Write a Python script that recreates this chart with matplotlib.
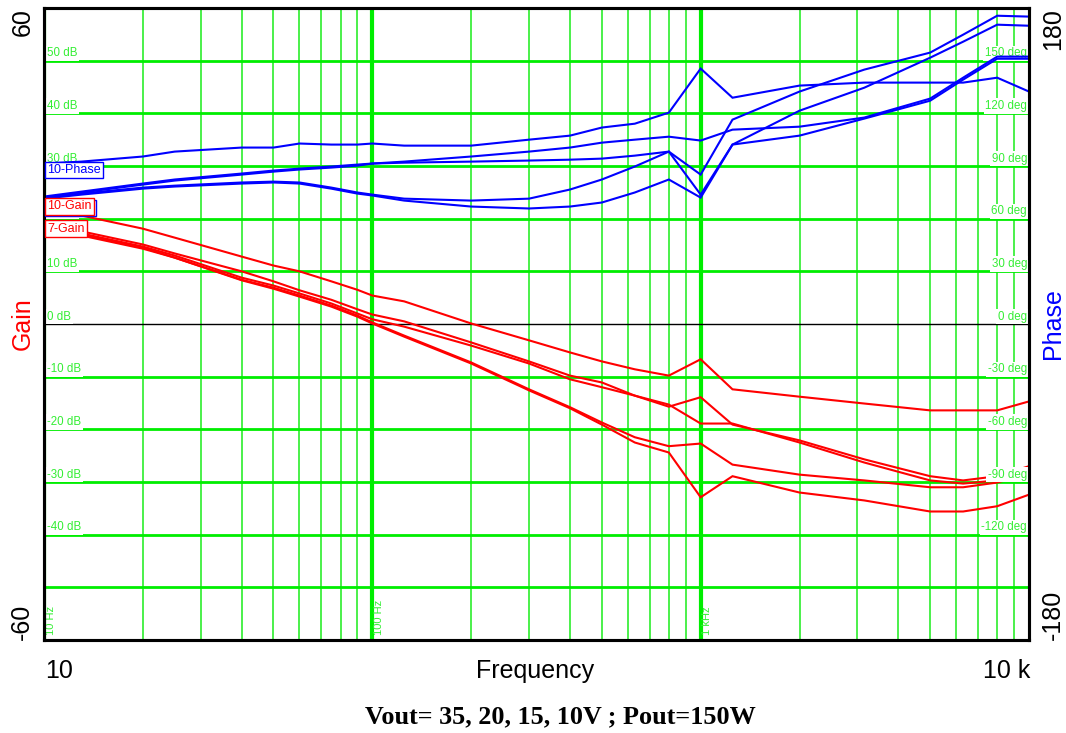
import matplotlib
matplotlib.use("Agg")
import matplotlib.pyplot as plt
from matplotlib.ticker import NullLocator

plt.rcParams['font.family'] = ['Liberation Sans', 'DejaVu Sans']

# ---------------- data ----------------
freq = [10, 13, 20, 25, 40, 50, 60, 75, 90, 100, 125, 200, 300, 400, 500,
        630, 800, 1000, 1250, 2000, 3150, 5000, 6300, 8000, 10000]

gain_1 = [21.7, 20.6, 18.1, 16.4, 12.8, 11.1, 10.0, 8.1, 6.5, 5.4, 4.3, 0.1, -3.1, -5.4, -7.1,
          -8.6, -9.8, -6.7, -12.4, -13.8, -15.1, -16.4, -16.4, -16.4, -14.7]
gain_2 = [18.7, 17.6, 15.1, 13.4, 10.0, 8.1, 6.4, 4.6, 2.8, 1.8, 0.5, -3.5, -7.1, -9.8, -11.1,
          -13.6, -15.7, -13.9, -19.1, -22.1, -25.7, -28.9, -29.7, -28.9, -27.0]
gain_3 = [18.3, 17.2, 14.7, 13.0, 8.8, 7.3, 5.8, 3.9, 2.0, 0.9, -0.5, -4.1, -7.5, -10.5, -12.0,
          -13.6, -15.3, -18.9, -18.9, -22.5, -26.3, -29.7, -30.3, -29.7, -27.8]
gain_4 = [18.1, 17.0, 14.5, 12.6, 8.4, 6.9, 5.4, 3.5, 1.6, 0.3, -2.2, -7.3, -12.4, -15.8, -18.7,
          -21.5, -23.2, -22.7, -26.7, -28.6, -29.7, -31.0, -31.0, -30.1, -28.4]
gain_5 = [17.9, 16.8, 14.3, 12.6, 8.3, 6.7, 5.2, 3.3, 1.4, 0.1, -2.4, -7.5, -12.6, -16.0, -19.1,
          -22.5, -24.4, -32.9, -28.9, -32.0, -33.5, -35.6, -35.6, -34.6, -32.4]

phase_1 = [91.4, 92.5, 95.4, 98.2, 100.5, 100.5, 102.8, 102.2, 102.2, 102.8, 101.6, 101.6, 105.0,
           107.3, 111.9, 114.1, 120.4, 145.5, 128.9, 135.8, 137.5, 137.5, 137.5, 140.3, 132.4]
phase_2 = [72.6, 75.4, 80.0, 82.3, 85.7, 87.4, 88.5, 89.7, 90.8, 91.4, 92.5, 95.4, 98.2,
           100.5, 103.3, 105.0, 106.7, 104.5, 110.7, 112.4, 117.6, 128.4, 140.3, 152.3, 152.3]
phase_3 = [72.0, 74.9, 79.4, 81.7, 85.1, 86.8, 88.0, 89.1, 90.2, 91.4, 91.9, 92.5, 93.1,
           93.6, 94.2, 95.9, 98.2, 85.1, 116.4, 132.4, 144.9, 154.6, 164.8, 175.6, 175.1]
phase_4 = [72.0, 74.3, 77.7, 78.8, 80.6, 81.1, 80.6, 77.7, 74.9, 73.7, 71.4, 70.3, 71.4,
           76.6, 82.3, 89.7, 98.2, 73.7, 102.2, 121.5, 134.6, 151.7, 160.8, 170.5, 169.9]
phase_5 = [71.4, 73.7, 77.1, 78.3, 80.0, 80.6, 80.0, 77.1, 74.3, 73.2, 70.3, 66.9, 65.8,
           66.9, 69.2, 74.9, 82.3, 72.0, 102.2, 107.3, 117.0, 127.2, 139.2, 151.1, 151.1]

gain_curves = [gain_1, gain_2, gain_3, gain_4, gain_5]
phase_curves = [phase_1, phase_2, phase_3, phase_4, phase_5]

gain_grid = [50, 40, 30, 20, 10, 0, -10, -20, -30, -40, -50]
gain_grid_labels = ['50 dB', '40 dB', '30 dB', '20 dB', '10 dB', '0 dB',
                    '-10 dB', '-20 dB', '-30 dB', '-40 dB', '']
phase_grid_labels = ['150 deg', '120 deg', '90 deg', '60 deg', '30 deg', '0 deg',
                     '-30 deg', '-60 deg', '-90 deg', '-120 deg', '']
phase_grid = [150, 120, 90, 60, 30, 0, -30, -60, -90, -120, -150]
decades = [10, 100, 1000]
decade_labels = ['10 Hz', '100 Hz', '1 kHz']
legend_names = ['10-Phase', '7-Phase', '10-Gain', '7-Gain']

title = 'Vout= 35, 20, 15, 10V ; Pout=150W'

# ---------------- figure ----------------
GREEN = '#00ee00'
LABEL_GREEN = '#33ee33'
fig = plt.figure(figsize=(10.66, 7.33), dpi=100)
ax = fig.add_axes([44 / 1066, 93 / 733, 985 / 1066, 632 / 733])
ax.set_xscale('log')
ax.set_xlim(10, 10000)
ax.set_ylim(-60, 60)
ax.xaxis.set_major_locator(NullLocator())
ax.xaxis.set_minor_locator(NullLocator())
ax.set_yticks([])

ax2 = ax.twinx()
ax2.set_ylim(-180, 180)
ax2.set_yticks([])
ax2.patch.set_visible(False)

for a in (ax, ax2):
    for s in a.spines.values():
        s.set_linewidth(2.2)
        s.set_color('black')
        s.set_zorder(10)

# vertical grid
for d in decades:
    for k in range(1, 10):
        f = d * k
        if k == 1:
            ax.axvline(f, color=GREEN, lw=3.0, zorder=1)
        else:
            ax.axvline(f, color='#3def3d', lw=1.3, zorder=1)

# horizontal grid
for lev in gain_grid:
    if lev == 0:
        ax.axhline(lev, color='black', lw=1.0, zorder=1.5)
    else:
        ax.axhline(lev, color=GREEN, lw=2.0, zorder=1)

ytr = ax.get_yaxis_transform()
for lev, lab in zip(gain_grid, gain_grid_labels):
    if lab:
        ax.text(0.003, lev + 0.25, lab, transform=ytr, ha='left', va='bottom',
                fontsize=8.3, color=LABEL_GREEN, zorder=2,
                bbox=dict(facecolor='white', edgecolor='none', pad=1.2))
ytr2 = ax2.get_yaxis_transform()
for lev, lab in zip(phase_grid, phase_grid_labels):
    if lab:
        ax2.text(0.998, lev + 0.75, lab, transform=ytr2, ha='right', va='bottom',
                 fontsize=8.3, color=LABEL_GREEN, zorder=1,
                 bbox=dict(facecolor='white', edgecolor='none', pad=1.2))

xtr = ax.get_xaxis_transform()
for d, lab in zip(decades, decade_labels):
    ax.text(d * 1.012, 0.008, lab, transform=xtr, rotation=90, ha='left', va='bottom',
            fontsize=8, color=LABEL_GREEN, zorder=2)

# curves
for g in gain_curves:
    ax.plot(freq, g, color='#ff0000', lw=1.5, zorder=3, solid_joinstyle='miter')
for p in phase_curves:
    ax2.plot(freq, p, color='#0000ff', lw=1.5, zorder=3, solid_joinstyle='miter')

# legend-like tags (the 7-Phase tag sits behind the 10-Gain tag, as in the original)
tag_y = [0.744, 0.683, 0.686, 0.651]
tag_colors = ['#0000ff', '#0000ff', '#ff0000', '#ff0000']
for i, (name, yy, c) in enumerate(zip(legend_names, tag_y, tag_colors)):
    ax2.text(0.003, yy, name, transform=ax2.transAxes, ha='left', va='center',
             fontsize=9, color=c, zorder=20 + i,
             bbox=dict(facecolor='white', edgecolor=c, pad=1.5, lw=1.0))

# axis texts
ax.text(-0.022, 1.0, '60', transform=ax.transAxes, rotation=90, ha='center', va='top', fontsize=18)
ax.text(-0.022, 0.0, '-60', transform=ax.transAxes, rotation=90, ha='center', va='bottom', fontsize=18)
ax.text(-0.022, 0.5, 'Gain', transform=ax.transAxes, rotation=90, ha='center', va='center',
        fontsize=18, color='#ff0000')
ax.text(1.024, 1.0, '180', transform=ax.transAxes, rotation=90, ha='center', va='top', fontsize=18)
ax.text(1.024, 0.0, '-180', transform=ax.transAxes, rotation=90, ha='center', va='bottom', fontsize=18)
ax.text(1.024, 0.5, 'Phase', transform=ax.transAxes, rotation=90, ha='center', va='center',
        fontsize=18, color='#0000ff')
ax.text(0.001, -0.049, '10', transform=ax.transAxes, ha='left', va='center', fontsize=18)
ax.text(1.001, -0.049, '10 k', transform=ax.transAxes, ha='right', va='center', fontsize=18)
ax.text(0.499, -0.049, 'Frequency', transform=ax.transAxes, ha='center', va='center', fontsize=18)
fig.text(560 / 1066, 1 - 717 / 733, title, ha='center', va='center', fontsize=18.8,
         fontweight='bold', family=['Liberation Serif', 'DejaVu Serif'])

fig.savefig('out.png', dpi=100, facecolor='white')
